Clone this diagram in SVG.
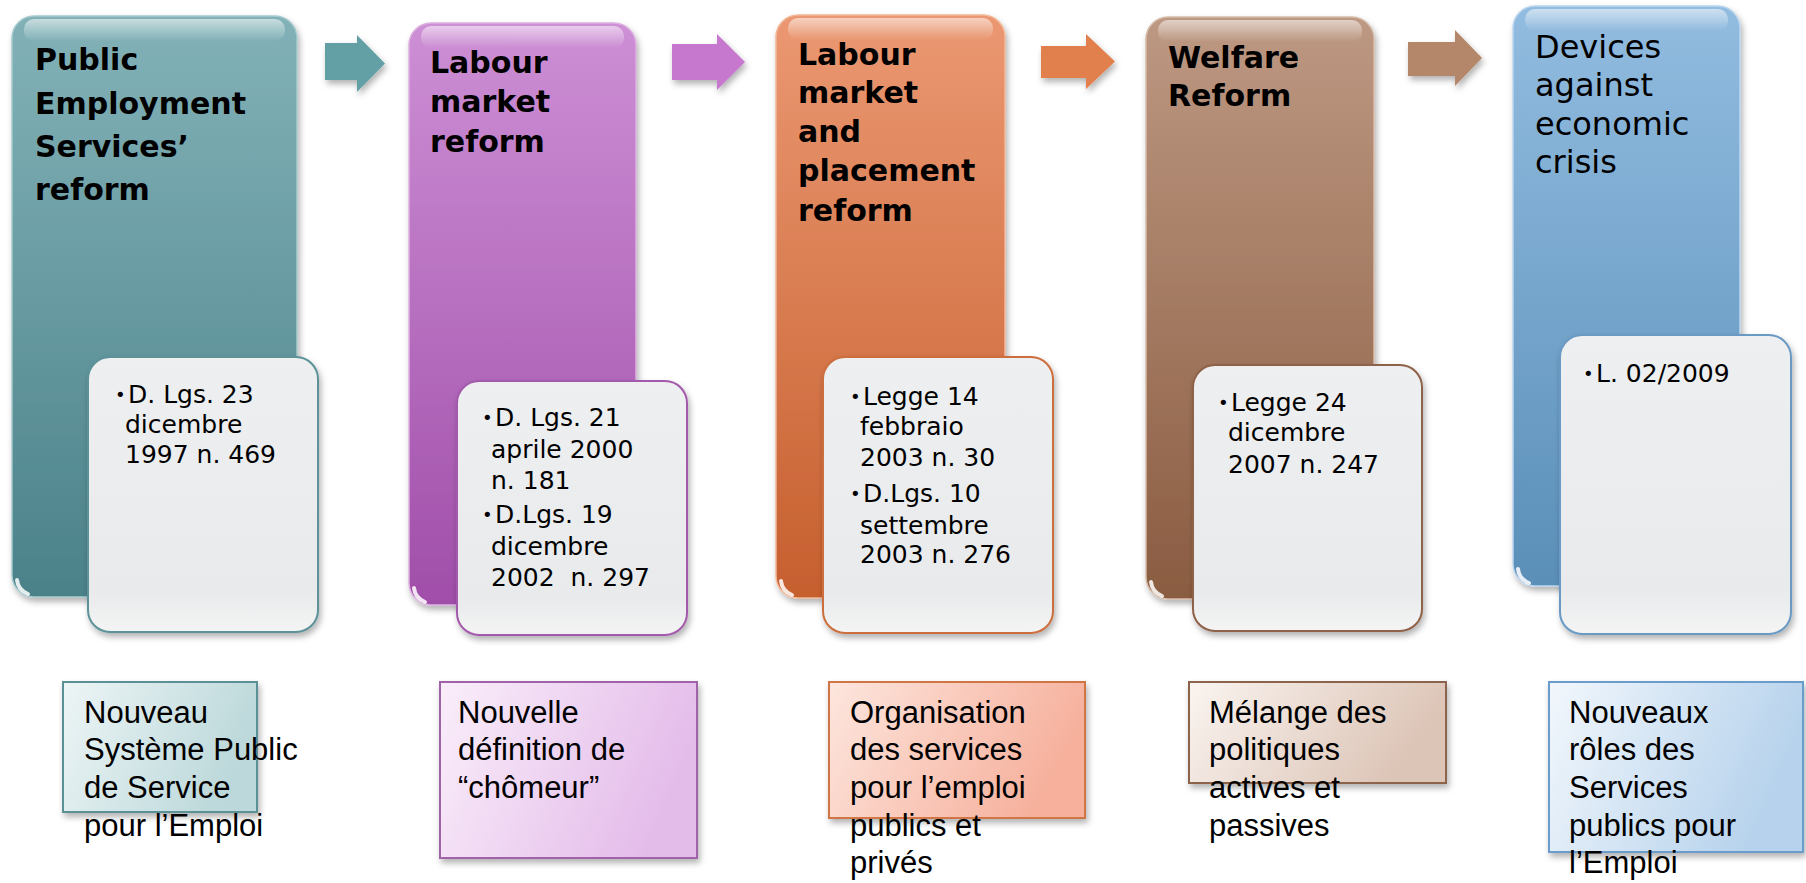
<svg xmlns="http://www.w3.org/2000/svg" width="1806" height="883" viewBox="0 0 1806 883">
<defs>
<linearGradient id="gTeal" x1="0" y1="0" x2="0" y2="1"><stop offset="0" stop-color="#82b2b8"/><stop offset="1" stop-color="#4b8189"/></linearGradient>
<linearGradient id="gPurple" x1="0" y1="0" x2="0" y2="1"><stop offset="0" stop-color="#cd8fd5"/><stop offset="1" stop-color="#a04ea9"/></linearGradient>
<linearGradient id="gOrange" x1="0" y1="0" x2="0" y2="1"><stop offset="0" stop-color="#eb9872"/><stop offset="1" stop-color="#c65f2e"/></linearGradient>
<linearGradient id="gBrown" x1="0" y1="0" x2="0" y2="1"><stop offset="0" stop-color="#bd9882"/><stop offset="1" stop-color="#8a5c41"/></linearGradient>
<linearGradient id="gBlue" x1="0" y1="0" x2="0" y2="1"><stop offset="0" stop-color="#92bce0"/><stop offset="1" stop-color="#5a8fb8"/></linearGradient>
<linearGradient id="gWhite" x1="0" y1="0" x2="0" y2="1"><stop offset="0" stop-color="#eeeff0"/><stop offset="0.85" stop-color="#e8eaeb"/><stop offset="1" stop-color="#f4f4f4"/></linearGradient>
<linearGradient id="gGloss" x1="0" y1="0" x2="0" y2="1"><stop offset="0" stop-color="#ffffff" stop-opacity="0.55"/><stop offset="1" stop-color="#ffffff" stop-opacity="0"/></linearGradient>
<linearGradient id="bTeal" x1="0" y1="0" x2="1" y2="0.3"><stop offset="0" stop-color="#edf5f6"/><stop offset="1" stop-color="#bcd8da"/></linearGradient>
<linearGradient id="bPurple" x1="0" y1="0" x2="1" y2="0.3"><stop offset="0" stop-color="#faeefa"/><stop offset="1" stop-color="#e4bcea"/></linearGradient>
<linearGradient id="bOrange" x1="0" y1="0" x2="1" y2="0.3"><stop offset="0" stop-color="#fde6de"/><stop offset="1" stop-color="#f6b09c"/></linearGradient>
<linearGradient id="bBrown" x1="0" y1="0" x2="1" y2="0.3"><stop offset="0" stop-color="#faf4f0"/><stop offset="1" stop-color="#dcc4b6"/></linearGradient>
<linearGradient id="bBlue" x1="0" y1="0" x2="1" y2="0.3"><stop offset="0" stop-color="#f2f7fc"/><stop offset="1" stop-color="#b6d2ec"/></linearGradient>
<filter id="sh" x="-10%" y="-10%" width="130%" height="130%"><feDropShadow dx="2" dy="4" stdDeviation="3" flood-color="#000" flood-opacity="0.3"/></filter>
</defs>
<style>
.title{font-family:"DejaVu Sans","Liberation Sans",sans-serif;font-weight:bold;font-size:30px;fill:#000}
.title2{font-family:"DejaVu Sans","Liberation Sans",sans-serif;font-size:32px;fill:#000}
.det{font-family:"DejaVu Sans","Liberation Sans",sans-serif;font-size:25px;fill:#000;white-space:pre}
.bul{font-family:"DejaVu Sans",sans-serif;font-size:18px;fill:#000}
.note{font-family:"Liberation Sans","DejaVu Sans",sans-serif;font-size:31px;fill:#000}
.wbox{fill:url(#gWhite);stroke-width:2}
.big{stroke-width:1.5}
.gloss{fill:url(#gGloss)}
.hl{fill:none;stroke:#ffffff;stroke-opacity:0.85;stroke-width:4;stroke-linecap:round}
</style>

<g id="connectors">
<path d="M325,43 H357 V35 L385,63.5 L357,92 V80 H325 Z" fill="#62a0a6" filter="url(#sh)"/>
<path d="M672,44 H717 V34 L745,62 L717,90 V80 H672 Z" fill="#c678ce" filter="url(#sh)"/>
<path d="M1041,46 H1086 V34 L1115,61.5 L1086,89 V78 H1041 Z" fill="#e2804e" filter="url(#sh)"/>
<path d="M1408,42 H1455 V30 L1482,58 L1455,86 V76 H1408 Z" fill="#b4876a" filter="url(#sh)"/>
</g>

<g id="node1">
<rect class="big" x="12" y="16" width="285" height="581" rx="22" fill="url(#gTeal)" stroke="#a6cacd" filter="url(#sh)"/>
<rect class="gloss" x="24" y="19" width="261" height="22" rx="10"/>
<path class="hl" d="M17,580 Q18,590 28,594"/>
<text class="title" x="35" y="70">Public</text>
<text class="title" x="35" y="114">Employment</text>
<text class="title" x="35" y="157">Services’</text>
<text class="title" x="35" y="200">reform</text>
<rect class="wbox" x="88" y="357" width="230" height="275" rx="22" stroke="#5c9298" filter="url(#sh)"/>
<text class="bul" x="115" y="401">•</text>
<text class="det" x="128" y="403">D. Lgs. 23</text>
<text class="det" x="125" y="433">dicembre</text>
<text class="det" x="125" y="463">1997 n. 469</text>
</g>

<g id="node2">
<rect class="big" x="409" y="23" width="227" height="582" rx="22" fill="url(#gPurple)" stroke="#dcb0e0" filter="url(#sh)"/>
<rect class="gloss" x="421" y="26" width="203" height="22" rx="10"/>
<path class="hl" d="M414,588 Q415,598 425,602"/>
<text class="title" x="430" y="73">Labour</text>
<text class="title" x="430" y="112">market</text>
<text class="title" x="430" y="152">reform</text>
<rect class="wbox" x="457" y="381" width="230" height="254" rx="22" stroke="#a45aac" filter="url(#sh)"/>
<text class="bul" x="482" y="424">•</text>
<text class="det" x="495" y="426">D. Lgs. 21</text>
<text class="det" x="491" y="458">aprile 2000</text>
<text class="det" x="491" y="489">n. 181</text>
<text class="bul" x="482" y="521">•</text>
<text class="det" x="495" y="523">D.Lgs. 19</text>
<text class="det" x="491" y="555">dicembre</text>
<text class="det" x="491" y="586">2002  n. 297</text>
</g>

<g id="node3">
<rect class="big" x="776" y="15" width="229" height="583" rx="22" fill="url(#gOrange)" stroke="#f2b898" filter="url(#sh)"/>
<rect class="gloss" x="788" y="18" width="205" height="22" rx="10"/>
<path class="hl" d="M781,581 Q782,591 792,595"/>
<text class="title" x="798" y="65">Labour</text>
<text class="title" x="798" y="103">market</text>
<text class="title" x="798" y="142">and</text>
<text class="title" x="798" y="181">placement</text>
<text class="title" x="798" y="221">reform</text>
<rect class="wbox" x="823" y="357" width="230" height="276" rx="22" stroke="#cc6e3c" filter="url(#sh)"/>
<text class="bul" x="850" y="403">•</text>
<text class="det" x="863" y="405">Legge 14</text>
<text class="det" x="860" y="435">febbraio</text>
<text class="det" x="860" y="466">2003 n. 30</text>
<text class="bul" x="850" y="500">•</text>
<text class="det" x="863" y="502">D.Lgs. 10</text>
<text class="det" x="860" y="534">settembre</text>
<text class="det" x="860" y="563">2003 n. 276</text>
</g>

<g id="node4">
<rect class="big" x="1146" y="17" width="228" height="582" rx="22" fill="url(#gBrown)" stroke="#d6bcaa" filter="url(#sh)"/>
<rect class="gloss" x="1158" y="20" width="204" height="22" rx="10"/>
<path class="hl" d="M1151,582 Q1152,592 1162,596"/>
<text class="title" x="1168" y="68">Welfare</text>
<text class="title" x="1168" y="106">Reform</text>
<rect class="wbox" x="1193" y="365" width="229" height="266" rx="22" stroke="#8e6248" filter="url(#sh)"/>
<text class="bul" x="1218" y="409">•</text>
<text class="det" x="1231" y="411">Legge 24</text>
<text class="det" x="1228" y="441">dicembre</text>
<text class="det" x="1228" y="473">2007 n. 247</text>
</g>

<g id="node5">
<rect class="big" x="1513" y="6" width="227" height="580" rx="22" fill="url(#gBlue)" stroke="#bcd6ee" filter="url(#sh)"/>
<rect class="gloss" x="1525" y="9" width="203" height="22" rx="10"/>
<path class="hl" d="M1518,569 Q1519,579 1529,583"/>
<text class="title2" x="1535" y="58">Devices</text>
<text class="title2" x="1535" y="96">against</text>
<text class="title2" x="1535" y="135">economic</text>
<text class="title2" x="1535" y="173">crisis</text>
<rect class="wbox" x="1560" y="335" width="231" height="299" rx="22" stroke="#6a9ac4" filter="url(#sh)"/>
<text class="bul" x="1583" y="380">•</text>
<text class="det" x="1596" y="382">L. 02/2009</text>
</g>

<g id="note1">
<rect x="63" y="682" width="194" height="130" fill="url(#bTeal)" stroke="#5a9096" stroke-width="2" filter="url(#sh)"/>
<text class="note" x="84" y="723">Nouveau</text>
<text class="note" x="84" y="760">Système Public</text>
<text class="note" x="84" y="798">de Service</text>
<text class="note" x="84" y="836">pour l’Emploi</text>
</g>
<g id="note2">
<rect x="440" y="682" width="257" height="176" fill="url(#bPurple)" stroke="#a062a8" stroke-width="2" filter="url(#sh)"/>
<text class="note" x="458" y="723">Nouvelle</text>
<text class="note" x="458" y="760">définition de</text>
<text class="note" x="458" y="798">“chômeur”</text>
</g>
<g id="note3">
<rect x="829" y="682" width="256" height="136" fill="url(#bOrange)" stroke="#d07444" stroke-width="2" filter="url(#sh)"/>
<text class="note" x="850" y="723">Organisation</text>
<text class="note" x="850" y="760">des services</text>
<text class="note" x="850" y="798">pour l’emploi</text>
<text class="note" x="850" y="836">publics et</text>
<text class="note" x="850" y="873">privés</text>
</g>
<g id="note4">
<rect x="1189" y="682" width="257" height="101" fill="url(#bBrown)" stroke="#8c644c" stroke-width="2" filter="url(#sh)"/>
<text class="note" x="1209" y="723">Mélange des</text>
<text class="note" x="1209" y="760">politiques</text>
<text class="note" x="1209" y="798">actives et</text>
<text class="note" x="1209" y="836">passives</text>
</g>
<g id="note5">
<rect x="1549" y="682" width="254" height="170" fill="url(#bBlue)" stroke="#6a9ccc" stroke-width="2" filter="url(#sh)"/>
<text class="note" x="1569" y="723">Nouveaux</text>
<text class="note" x="1569" y="760">rôles des</text>
<text class="note" x="1569" y="798">Services</text>
<text class="note" x="1569" y="836">publics pour</text>
<text class="note" x="1569" y="873">l’Emploi</text>
</g>
</svg>
